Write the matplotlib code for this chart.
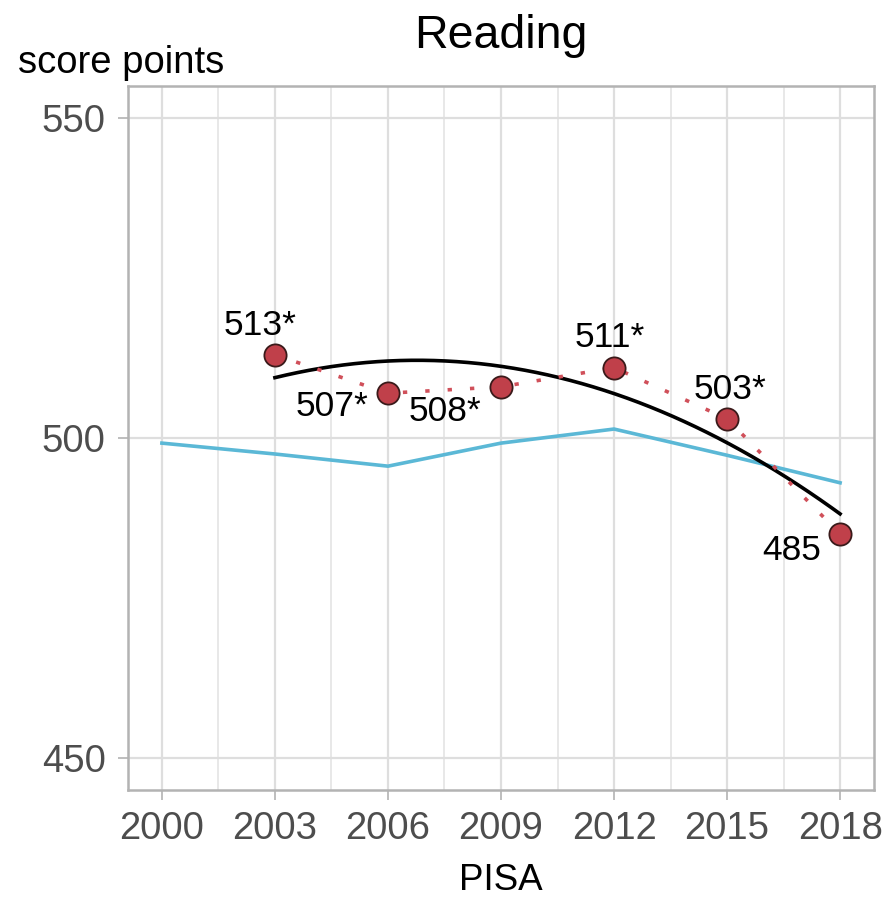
import numpy as np
import matplotlib
matplotlib.use("Agg")
import matplotlib.pyplot as plt

plt.rcParams['font.family'] = ['Liberation Sans', 'DejaVu Sans']

years = [2003, 2006, 2009, 2012, 2015, 2018]
scores = [513, 507, 508, 511, 503, 485]
labels = ["513*", "507*", "508*", "511*", "503*", "485"]
oecd_years = [2000, 2003, 2006, 2009, 2012, 2015, 2018]
oecd_scores = [499.2, 497.5, 495.6, 499.2, 501.4, 497.3, 493.0]
xticks = [2000, 2003, 2006, 2009, 2012, 2015, 2018]
yticks = [450, 500, 550]

# label offsets (pixels) relative to each point
label_dx = [-15, -56, -56, -4, 3, -48]
label_dy = [29, -13, -25, 30, 29, -16]

W, H = 889, 901
fig = plt.figure(figsize=(W / 100, H / 100), dpi=100)
L, R, T, B = 128, 874, 86, 790
ax = fig.add_axes([L / W, (H - B) / H, (R - L) / W, (B - T) / H])

ax.set_xlim(1999.1, 2018.9)
ax.set_ylim(445, 555)

# grids
ax.set_xticks(xticks)
ax.set_yticks(yticks)
ax.set_xticks(np.arange(2001.5, 2018, 3), minor=True)
ax.grid(which='major', color='#DEDEDE', linewidth=1.6)
ax.grid(which='minor', axis='x', color='#E6E6E6', linewidth=1.3)
ax.set_axisbelow(True)
ax.tick_params(which='minor', length=0)
ax.tick_params(which='major', length=7, width=1.2, color='#B3B3B3',
               labelsize=27.5, labelcolor='#4D4D4D', pad=8)
ax.tick_params(axis='y', pad=9)
for s in ax.spines.values():
    s.set_color('#B3B3B3')
    s.set_linewidth(1.8)

# OECD average line
ax.plot(oecd_years, oecd_scores, color='#5BB8D6', lw=2.6, zorder=2)

# quadratic trend
coef = np.polyfit(years, scores, 2)
xs = np.linspace(years[0], years[-1], 200)
ax.plot(xs, np.polyval(coef, xs), color='black', lw=2.6, zorder=3)

# dotted connection
ax.plot(years, scores, color='#D0505A', lw=2.6, linestyle=(0, (1.2, 5)), zorder=3)

# points
ax.plot(years, scores, 'o', ms=16, mfc='#C0404A', mec='#3A1A1A', mew=1.3, zorder=4)

for x, y, lab, dx, dy in zip(years, scores, labels, label_dx, label_dy):
    ax.annotate(lab, (x, y), xytext=(dx, dy), textcoords='offset pixels',
                ha='center', va='center', fontsize=25.5, color='black', zorder=5)

ax.set_xlabel('PISA', fontsize=26.5, color='black', labelpad=12)

fig.text((L + R) / 2 / W, 1 - 48 / H, 'Reading', fontsize=33.5, ha='center',
         va='baseline', color='black')
fig.text(18 / W, 1 - 73 / H, 'score points', fontsize=27.5, ha='left',
         va='baseline', color='black')

fig.savefig('out.png', dpi=100, facecolor='white')
